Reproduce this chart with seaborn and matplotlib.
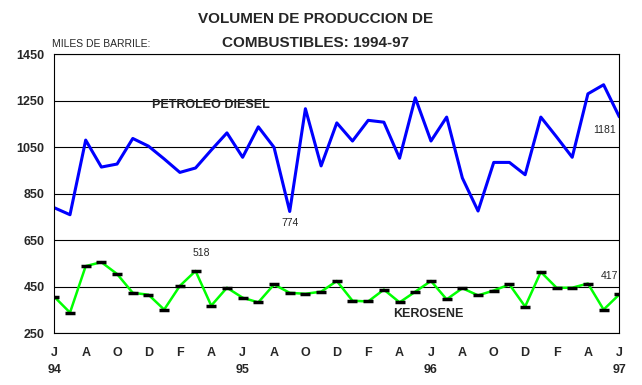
import numpy as np
import pandas as pd
import matplotlib
matplotlib.use("Agg")
import matplotlib.pyplot as plt
import seaborn as sns

# ── data: monthly, Jun-94 .. Jun-97 (miles de barriles) ──────────────────────
diesel = [790, 760, 1081, 965, 978, 1088, 1055, 1000, 942, 961, 1038, 1112, 1007,
          1138, 1050, 774, 1216, 970, 1155, 1077, 1166, 1158, 1003, 1263, 1077,
          1180, 918, 776, 985, 985, 932, 1180, 1095, 1007, 1280, 1319, 1181]
kerosene = [407, 339, 539, 556, 505, 424, 416, 352, 454, 518, 369, 446, 403,
            383, 460, 424, 420, 429, 475, 390, 387, 438, 383, 429, 475,
            396, 444, 413, 434, 460, 365, 514, 446, 446, 464, 352, 417]
month_letters = ["J", "A", "O", "D", "F", "A"] * 3 + ["J"]   # every 2nd month
years = {0: "94", 12: "95", 24: "96", 36: "97"}
y_ticks = [250, 450, 650, 850, 1050, 1250, 1450]

df = pd.DataFrame({"mes": np.arange(len(diesel)),
                   "diesel": diesel, "kerosene": kerosene})

sns.set_style("white")
plt.rcParams["font.family"] = ["Liberation Sans", "DejaVu Sans"]

W, H = 642, 385
fig = plt.figure(figsize=(W / 100, H / 100), dpi=100)
ax = fig.add_axes([54.3 / W, 1 - 333.3 / H, (619.3 - 54.3) / W, (333.3 - 54.3) / H])

sns.lineplot(data=df, x="mes", y="diesel", ax=ax, color="#0000FF", lw=2.2)
sns.lineplot(data=df, x="mes", y="kerosene", ax=ax, color="#00FF00", lw=1.8,
             marker="_", markersize=6.5, markeredgewidth=2.5,
             markeredgecolor="black", markerfacecolor="black")

ax.set_xlim(0, len(diesel) - 1)
ax.set_ylim(250, 1450)
ax.set_yticks(y_ticks)
ax.set_yticklabels([str(v) for v in y_ticks], fontsize=9, fontweight="bold")

xt = list(range(len(diesel)))
xl = []
for i in xt:
    if i % 2 == 0:
        lab = month_letters[i // 2]
        if i in years:
            lab += "\n" + years[i]
        xl.append(lab)
    else:
        xl.append("")
ax.set_xticks(xt)
ax.set_xticklabels(xl, fontsize=9, fontweight="bold")
for t in ax.get_xticklabels():
    t.set_linespacing(1.6)

ax.tick_params(axis="x", direction="out", length=3.6, width=0.8, color="black", pad=6)
ax.tick_params(axis="y", direction="out", length=3, width=0.8, color="black", pad=4)
ax.yaxis.grid(True, color="black", lw=0.8)
ax.set_axisbelow(True)
for s in ax.spines.values():
    s.set_color("black")
    s.set_linewidth(0.8)
ax.set_xlabel("")
ax.set_ylabel("")

# ── annotations ──────────────────────────────────────────────────────────────
ax.text(6.2, 1232, "PETROLEO DIESEL", fontsize=9, fontweight="bold", va="center", ha="left")
ax.text(23.8, 332, "KEROSENE", fontsize=9, fontweight="bold", va="center", ha="center")
ax.text(15, 724, "774", fontsize=7.5, ha="center", va="center")
ax.text(9.4, 596, "518", fontsize=7.5, ha="center", va="center")
ax.text(35.8, 1123, "1181", fontsize=7.5, ha="right", va="center")
ax.text(35.9, 498, "417", fontsize=7.5, ha="right", va="center")

fig.text(316 / W, 1 - 19 / H, "VOLUMEN DE PRODUCCION DE", fontsize=11,
         fontweight="bold", ha="center", va="center")
fig.text(316 / W, 1 - 43 / H, "COMBUSTIBLES: 1994-97", fontsize=11,
         fontweight="bold", ha="center", va="center")
fig.text(52 / W, 1 - 44 / H, "MILES DE BARRILE:", fontsize=7.5, ha="left", va="center")

fig.savefig("out.png", dpi=100)
plt.close()
